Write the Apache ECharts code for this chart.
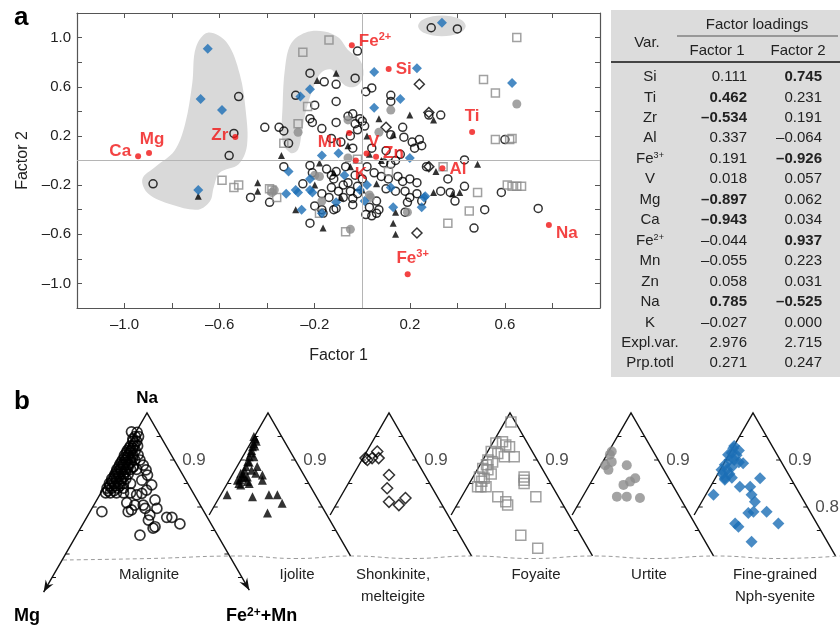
<!DOCTYPE html>
<html>
<head>
<meta charset="utf-8">
<script src="https://cdn.jsdelivr.net/npm/echarts@6/dist/echarts.min.js"></script>
<style>
html, body { margin: 0; padding: 0; background: #fff; }
#main { width: 840px; height: 632px; }
</style>
</head>
<body>
<div id="main"></div>
<script>
var FONT = '"Liberation Sans", Arial, sans-serif';
var RED = '#f01414', BLUE = '#1b6eb5', GRAY = '#8c8c8c';

// ---- factor loadings (table + red points) ----
var loadVars = ['Si', 'Ti', 'Zr', 'Al', 'Fe3+', 'V', 'Mg', 'Ca', 'Fe2+', 'Mn', 'Zn', 'Na', 'K'];
var factor1 = [0.111, 0.462, -0.534, 0.337, 0.191, 0.018, -0.897, -0.943, -0.044, -0.055, 0.058, 0.785, -0.027];
var factor2 = [0.745, 0.231, 0.191, -0.064, -0.926, 0.057, 0.062, 0.034, 0.937, 0.223, 0.031, -0.525, 0.000];
var summaryNames = ['Expl.var.', 'Prp.totl'];
var summary1 = [2.976, 0.271];
var summary2 = [2.715, 0.247];

// ---- panel a: factor scores by rock type [factor1, factor2] ----
var malignite = [
  [-0.52,0.52],[-0.54,0.22],[-0.56,0.04],[-0.88,-0.19],
  [-0.02,0.89],[-0.22,0.71],[-0.16,0.64],[-0.11,0.62],[-0.03,0.67],[-0.28,0.53],[-0.20,0.45],[-0.11,0.48],[0.015,0.56],[0.04,0.59],
  [-0.41,0.27],[-0.35,0.27],[-0.33,0.24],[-0.31,0.14],[-0.22,0.34],[-0.21,0.31],[-0.17,0.26],[-0.11,0.31],
  [-0.06,0.36],[-0.03,0.30],[-0.01,0.34],[-0.04,0.38],[-0.02,0.25],[-0.05,0.20],
  [-0.33,-0.05],[-0.22,-0.04],[-0.21,-0.10],[-0.47,-0.30],[-0.39,-0.34],[-0.04,0.10],
  [0.29,1.08],[0.40,1.07],
  [0.12,0.53],[0.12,0.48],[0.0,0.32],[0.01,0.28],[0.04,0.10],[0.17,0.27],[0.175,0.19],[0.12,0.21],[0.21,0.15],[0.24,0.17],[0.25,0.12],[0.22,0.10],[0.28,0.37],[0.33,0.37],
  [0.09,-0.02],[0.12,-0.03],[0.14,0.0],[0.27,-0.05],
  [0.08,-0.13],[0.11,-0.15],[0.15,-0.13],[0.17,-0.17],[0.20,-0.15],[0.23,-0.18],
  [0.10,-0.23],[0.14,-0.25],[0.18,-0.25],[0.20,-0.30],[0.23,-0.27],[0.25,-0.33],[0.19,-0.34],
  [0.06,-0.33],[0.03,-0.38],[0.07,-0.40],
  [0.36,-0.15],[0.39,-0.33],[0.37,-0.26],[0.33,-0.25],[0.43,0.005],[0.60,0.17],[0.43,-0.21],[0.585,-0.26],[0.515,-0.40],[0.74,-0.39],[0.47,-0.55],[0.18,-0.42],
  [-0.15,-0.07],[-0.13,-0.12],[-0.11,-0.09],[-0.12,-0.15],[-0.25,-0.19],[-0.17,-0.27],[-0.13,-0.22],[-0.14,-0.30],[-0.08,-0.20],[-0.06,-0.18],[-0.05,-0.25],[-0.04,-0.31],[-0.02,-0.27],[-0.02,-0.21],[-0.04,-0.36],[-0.165,-0.43],[-0.12,-0.40],[-0.22,-0.51],
  [-0.20,-0.37],[-0.17,-0.40],[-0.11,-0.39],[0.015,-0.44],[0.04,-0.45],[0.06,-0.43],
  [0.02,-0.05],[0.05,-0.10],[0.0,-0.15],[-0.03,-0.12],[-0.08,-0.30],[-0.10,-0.25],[-0.07,-0.05],[-0.09,0.15],[-0.13,0.18],[0.10,0.08],[0.16,0.05]
];
var ijolite = [
  [-0.11,0.71],[-0.19,0.65],[-0.34,0.04],[-0.69,-0.29],[-0.44,-0.18],[-0.44,-0.25],[0.07,0.34],[0.02,0.20],[0.20,0.37],[0.30,0.33],
  [0.13,0.21],[0.03,0.05],[0.31,-0.09],[0.30,-0.26],[0.41,-0.26],[0.14,-0.42],[0.13,-0.51],[0.14,-0.60],[0.06,-0.19],[0.485,-0.03],
  [-0.18,-0.02],[-0.28,-0.40],[-0.165,-0.55],[-0.09,-0.30],[0.38,-0.27],[-0.05,-0.05],[0.0,-0.24],[-0.12,-0.10],[-0.20,-0.20],[0.08,0.0],[-0.06,0.12]
];
var shonkinite = [[0.24,0.62],[0.10,0.27],[0.28,-0.05],[0.23,-0.59],[0.28,0.39]];
var foyaite = [
  [-0.14,0.98],[-0.25,0.88],[-0.23,0.44],[-0.27,0.30],[-0.33,0.14],[-0.59,-0.16],[-0.54,-0.22],[-0.52,-0.20],[-0.38,-0.24],[-0.36,-0.30],
  [0.65,1.0],[0.51,0.66],[0.56,0.55],[0.56,0.17],[0.62,0.17],[0.63,0.18],[0.34,-0.05],[0.61,-0.20],[0.63,-0.21],[0.65,-0.21],[0.67,-0.21],
  [0.485,-0.26],[0.45,-0.41],[0.36,-0.51],[-0.07,-0.58],[-0.39,-0.23],[-0.18,-0.43],[-0.02,0.01],[0.11,-0.09]
];
var urtite = [
  [-0.27,0.23],[-0.38,-0.26],[-0.20,-0.12],[-0.06,0.02],[0.07,0.23],[0.03,-0.28],[0.12,0.41],[0.65,0.46],[0.19,-0.42],[-0.05,-0.56],
  [-0.37,-0.24],[-0.18,-0.13],[-0.17,-0.33],[-0.06,0.33],[0.035,-0.30]
];
var fineGrained = [
  [-0.65,0.91],[-0.68,0.50],[-0.59,0.41],[-0.69,-0.24],[0.05,0.72],[0.05,0.43],[-0.22,0.58],[-0.26,0.52],[-0.31,-0.09],[-0.32,-0.27],
  [-0.27,-0.26],[-0.22,-0.24],[-0.17,0.04],[-0.11,-0.34],[0.02,-0.20],[0.335,1.12],[0.23,0.75],[0.63,0.63],[0.16,0.50],[-0.10,0.06],
  [-0.28,-0.24],[-0.22,-0.15],[-0.21,-0.26],[-0.255,-0.40],[-0.17,-0.43],[-0.075,-0.12],[-0.01,-0.24],[0.20,0.02],[0.12,-0.22],[0.265,-0.29],
  [0.13,-0.38],[0.01,-0.33],[0.26,-0.30],[0.25,-0.38]
];

// ---- panel b: ternary points [offset from Na apex, Na fraction] ----
var terMalignite = [
  [-0.021,0.959],[-0.033,0.960],[-0.019,0.911],[-0.002,0.879],[0.001,0.868],[0.010,0.847],[-0.011,0.829],[-0.043,0.809],[-0.026,0.804],[-0.004,0.797],
  [0.017,0.815],[0.021,0.797],[0.006,0.783],[0.003,0.772],[0.017,0.758],[0.042,0.778],[0.053,0.778],[0.070,0.764],[-0.015,0.740],[-0.096,0.790],
  [-0.040,0.790],[-0.033,0.794],[0.013,0.755],[-0.008,0.804],[-0.022,0.826],[-0.001,0.836],[-0.011,0.857],[-0.029,0.886],[-0.008,0.889],
  [-0.025,0.950],[-0.018,0.950],[-0.030,0.940],[-0.022,0.940],[-0.035,0.930],[-0.028,0.930],[-0.020,0.930],
  [-0.042,0.920],[-0.034,0.920],[-0.025,0.920],[-0.048,0.910],[-0.040,0.910],[-0.030,0.910],
  [-0.052,0.900],[-0.044,0.900],[-0.035,0.900],[-0.026,0.900],[-0.015,0.900],
  [-0.058,0.890],[-0.050,0.890],[-0.040,0.890],[-0.064,0.880],[-0.055,0.880],[-0.045,0.880],[-0.035,0.880],[-0.022,0.880],
  [-0.068,0.870],[-0.060,0.870],[-0.050,0.870],[-0.040,0.870],[-0.075,0.860],[-0.065,0.860],[-0.055,0.860],[-0.045,0.860],
  [-0.080,0.850],[-0.070,0.850],[-0.060,0.850],[-0.050,0.850],[-0.035,0.850],[-0.085,0.840],[-0.075,0.840],[-0.062,0.840],[-0.050,0.840],
  [-0.088,0.830],[-0.078,0.830],[-0.065,0.830],[-0.050,0.830],[-0.035,0.830],
  [-0.030,0.945],[-0.026,0.935],[-0.038,0.925],[-0.030,0.925],[-0.044,0.915],[-0.035,0.915],[-0.048,0.905],[-0.040,0.905],[-0.030,0.905],
  [-0.055,0.895],[-0.045,0.895],[-0.035,0.895],[-0.060,0.885],[-0.050,0.885],[-0.040,0.885],[-0.030,0.885],[-0.065,0.875],[-0.055,0.875],[-0.045,0.875],
  [-0.070,0.865],[-0.060,0.865],[-0.050,0.865],[-0.075,0.855],[-0.065,0.855],[-0.055,0.855],[-0.080,0.845],[-0.068,0.845],[-0.058,0.845],[-0.083,0.835],[-0.070,0.835]
];
var terIjolite = [
  [-0.030,0.950],[-0.033,0.928],[-0.040,0.907],[-0.047,0.886],[-0.058,0.872],[-0.065,0.857],[-0.044,0.864],[-0.026,0.872],[-0.012,0.868],[-0.012,0.857],
  [-0.023,0.886],[-0.030,0.907],[-0.058,0.847],[-0.087,0.826],[-0.033,0.822],[0.002,0.826],[0.020,0.826],[0.030,0.808],[-0.001,0.787],[-0.044,0.854],
  [-0.051,0.864],[-0.025,0.940],[-0.035,0.920],[-0.028,0.930],[-0.040,0.895],[-0.050,0.878],[-0.035,0.878],[-0.055,0.862],[-0.062,0.850],[-0.040,0.850],
  [-0.027,0.945],[-0.031,0.935],[-0.036,0.915],[-0.043,0.897],[-0.053,0.870],[-0.060,0.858]
];
var terShonkinite = [[-0.046,0.900],[-0.036,0.904],[-0.025,0.918],[-0.022,0.904],[-0.050,0.904],[0.000,0.868],[-0.004,0.840],[0.000,0.811],[0.021,0.804],[0.035,0.819]];
var terFoyaite = [
  [0.002,0.981],[-0.030,0.936],[-0.016,0.939],[-0.009,0.932],[-0.001,0.928],[-0.040,0.918],[-0.026,0.914],[-0.012,0.907],[-0.047,0.900],[-0.037,0.896],
  [0.009,0.907],[-0.058,0.882],[-0.047,0.879],[-0.065,0.864],[-0.055,0.861],[-0.062,0.843],[-0.051,0.843],[-0.069,0.843],[0.030,0.864],[0.030,0.857],
  [0.030,0.850],[0.055,0.822],[-0.026,0.822],[-0.009,0.811],[-0.005,0.804],[0.023,0.740],[0.059,0.712],[-0.050,0.890],[-0.040,0.870],[-0.060,0.855]
];
var terUrtite = [[-0.045,0.911],[-0.041,0.896],[-0.055,0.889],[-0.048,0.879],[-0.009,0.889],[0.009,0.861],[-0.002,0.854],[-0.016,0.847],[-0.030,0.822],[-0.009,0.822],[0.019,0.819],[-0.041,0.918]];
var terFine = [
  [-0.042,0.925],[-0.053,0.911],[-0.021,0.893],[0.015,0.861],[-0.067,0.879],[-0.060,0.861],[-0.084,0.826],[-0.028,0.843],[-0.006,0.843],[-0.003,0.826],
  [0.004,0.811],[-0.010,0.787],[0.001,0.790],[0.029,0.790],[0.054,0.765],[-0.038,0.765],[-0.031,0.758],[-0.003,0.726],
  [-0.045,0.915],[-0.050,0.900],[-0.060,0.890],[-0.040,0.900],[-0.035,0.910],[-0.055,0.880],[-0.045,0.885],[-0.030,0.895],[-0.065,0.870],[-0.050,0.870],[-0.060,0.858],[-0.045,0.862],[-0.040,0.930],[-0.030,0.920]
];
var rockNames = ['Malignite', 'Ijolite', 'Shonkinite,\nmelteigite', 'Foyaite', 'Urtite', 'Fine-grained\nNph-syenite'];

// ---- layout ----
var R3 = Math.sqrt(3);
var S = 470;                                   // px per ternary unit
var apexPx = [147, 268, 389, 510, 631, 753];
var naLeftEnd = [0.619, 0.783, 0.783, 0.783, 0.783, 0.783];
var naRightEnd = [0.623, 0.696, 0.696, 0.696, 0.696, 0.696];
var rockLabelX = [149, 297, 393, 536, 649, 775];
var tickLevels = [0.95, 0.9, 0.85, 0.8, 0.75, 0.7, 0.65];

// shaded groups in panel a (data coordinates)
var ellipse = [];
for (var k = 0; k < 16; k++) {
  var t = k / 16 * Math.PI * 2;
  ellipse.push([0.335 + 0.10 * Math.cos(t), 1.095 + 0.085 * Math.sin(t)]);
}
var regions = [
  [[-0.65,1.04],[-0.57,0.96],[-0.515,0.70],[-0.49,0.40],[-0.485,0.12],[-0.52,-0.03],[-0.60,-0.10],[-0.625,-0.22],[-0.64,-0.33],[-0.69,-0.40],[-0.80,-0.36],[-0.90,-0.27],[-0.925,-0.15],[-0.87,-0.05],[-0.79,0.08],[-0.745,0.30],[-0.715,0.63],[-0.70,0.92]],
  [[-0.30,0.06],[-0.335,0.15],[-0.335,0.45],[-0.325,0.75],[-0.30,0.95],[-0.24,1.04],[-0.16,1.05],[-0.10,1.0],[-0.06,0.90],[-0.01,0.82],[0.005,0.70],[-0.02,0.61],[-0.06,0.60],[-0.10,0.66],[-0.13,0.74],[-0.17,0.72],[-0.20,0.62],[-0.235,0.42],[-0.255,0.22],[-0.27,0.09]],
  ellipse
];

var labelPos = {
  'Si': ['right', [0, 0]], 'Ti': ['top', [0, 0]], 'Zr': ['left', [0, -2]], 'Al': ['right', [0, 1]],
  'Fe3+': ['top', [5, 0]], 'V': ['top', [7, 4]], 'Mg': ['top', [3, 2]], 'Ca': ['left', [0, -5]],
  'Fe2+': ['right', [0, -4]], 'Mn': ['left', [0, 9]], 'Zn': ['right', [0, -3]], 'Na': ['right', [0, 8]], 'K': ['bottom', [5, -2]]
};

function dash(v, d) { return (v < 0 ? '\u2013' : '') + Math.abs(v).toFixed(d); }
function supName(n) { return n.replace(/(\d\+)$/, '{sup|$1}'); }

function ticks(a, b, step) { var r = []; for (var v = a; v <= b + 1e-9; v += step) r.push(+v.toFixed(2)); return r; }

var chart = echarts.init(document.getElementById('main'));

var axisLine = { show: true, onZero: false, lineStyle: { color: '#555', width: 1.2 } };
var tickStyle = { show: true, inside: true, length: 5, lineStyle: { color: '#555' } };
var labStyle = { color: '#222', fontSize: 15, fontFamily: FONT };

var xTicks = ticks(-1.0, 0.8, 0.2), yTicks = ticks(-1.0, 1.0, 0.2);
var xLabs = [-1.0, -0.6, -0.2, 0.2, 0.6], yLabs = [-1.0, -0.6, -0.2, 0.2, 0.6, 1.0];

function scatterA(data, sym, size, style, z) {
  return { type: 'scatter', xAxisIndex: 0, yAxisIndex: 0, data: data, symbol: sym, symbolSize: size, itemStyle: style, z: z || 3, silent: true };
}
function scatterB(data, sym, size, style) {
  var out = [];
  data.forEach(function (grp, i) {
    grp.forEach(function (p) { out.push([apexPx[i] / S + p[0], p[1]]); });
  });
  return { type: 'scatter', xAxisIndex: 2, yAxisIndex: 2, data: out, symbol: sym, symbolSize: size, itemStyle: style, z: 3, silent: true };
}
var open = function (c, w) { return { color: 'rgba(0,0,0,0)', borderColor: c, borderWidth: w || 1.5 }; };

var redData = loadVars.map(function (n, i) {
  var lp = labelPos[n];
  return { name: n, value: [factor1[i], factor2[i]], label: { position: lp[0], offset: lp[1] } };
});

// baseline under the ternary plots
var basePx = [[63,560],[150,558.5],[240,556],[296,558.5],[351,556],[411,558.5],[472,556],[532,558.5],[593,556],[654,558.5],[716,556],[777,558.5],[840,556]];

var series = [
  {
    type: 'custom', xAxisIndex: 0, yAxisIndex: 0, silent: true, z: 1,
    data: regions.map(function (r) { return r[0]; }),
    renderItem: function (params, api) {
      var pts = regions[params.dataIndex].map(function (p) { return api.coord(p); });
      return { type: 'polygon', shape: { points: pts, smooth: 0.35 }, style: { fill: '#d9d9d9', stroke: null } };
    }
  },
  {
    type: 'line', xAxisIndex: 0, yAxisIndex: 0, data: [], silent: true, z: 2,
    markLine: {
      silent: true, symbol: ['none', 'none'], label: { show: false },
      lineStyle: { color: '#b5b5b5', width: 1, type: 'solid' },
      data: [{ xAxis: 0 }, { yAxis: 0 }]
    }
  },
  scatterA(malignite, 'circle', 8, open('#000')),
  scatterA(foyaite, 'rect', 8, open('#8a8a8a')),
  scatterA(shonkinite, 'diamond', 10, open('#000')),
  scatterA(urtite, 'circle', 9, { color: GRAY }),
  scatterA(ijolite, 'triangle', 7, { color: '#000' }),
  scatterA(fineGrained, 'diamond', 10, { color: BLUE }),
  {
    type: 'scatter', xAxisIndex: 0, yAxisIndex: 0, data: redData, symbol: 'circle', symbolSize: 6,
    itemStyle: { color: RED }, z: 6, silent: true,
    label: {
      show: true, distance: 4, color: RED, fontSize: 17, fontFamily: FONT, fontWeight: 'bold',
      formatter: function (p) { return supName(p.name); },
      rich: { sup: { fontSize: 11, color: RED, fontWeight: 'bold', fontFamily: FONT, verticalAlign: 'top', padding: [0, 0, 8, 0] } }
    }
  },
  // ternary frames
  {
    type: 'custom', xAxisIndex: 2, yAxisIndex: 2, silent: true, z: 2,
    data: apexPx.map(function (p) { return [p / S, 1]; }),
    renderItem: function (params, api) {
      var i = params.dataIndex, a = apexPx[i] / S;
      var L = api.coord([a - (1 - naLeftEnd[i]) / R3, naLeftEnd[i]]);
      var T = api.coord([a, 1]);
      var Rr = api.coord([a + (1 - naRightEnd[i]) / R3, naRightEnd[i]]);
      var st = { stroke: '#111', lineWidth: 1.4, fill: null };
      var kids = [{ type: 'polyline', shape: { points: [L, T, Rr] }, style: st }];
      tickLevels.forEach(function (n) {
        if (n > naLeftEnd[i] + 0.01) {
          var p = api.coord([a - (1 - n) / R3, n]);
          kids.push({ type: 'line', shape: { x1: p[0], y1: p[1], x2: p[0] + 4, y2: p[1] }, style: { stroke: '#111', lineWidth: 1 } });
        }
        if (n > naRightEnd[i] + 0.01) {
          var q = api.coord([a + (1 - n) / R3, n]);
          kids.push({ type: 'line', shape: { x1: q[0], y1: q[1], x2: q[0] - 4, y2: q[1] }, style: { stroke: '#111', lineWidth: 1 } });
        }
      });
      if (i === 0) {
        [L, Rr].forEach(function (P) {
          var dx = P[0] - T[0], dy = P[1] - T[1], len = Math.sqrt(dx * dx + dy * dy);
          dx /= len; dy /= len;
          var nx = -dy, ny = dx;
          var bx = P[0] - dx * 12, by = P[1] - dy * 12;
          kids.push({ type: 'polygon', shape: { points: [P, [bx + nx * 4.5, by + ny * 4.5], [P[0] - dx * 8, P[1] - dy * 8], [bx - nx * 4.5, by - ny * 4.5]] }, style: { fill: '#111' } });
        });
      }
      return { type: 'group', children: kids };
    }
  },
  {
    type: 'line', xAxisIndex: 2, yAxisIndex: 2, silent: true, z: 1, symbol: 'none', smooth: 0.5,
    data: basePx.map(function (p) { return [p[0] / S, 1 - (p[1] - 413) / S]; }),
    lineStyle: { color: '#9a9a9a', width: 1, type: [4, 3] }
  },
  {
    type: 'scatter', xAxisIndex: 2, yAxisIndex: 2, silent: true, symbolSize: 0, z: 4,
    data: apexPx.map(function (p) { return { name: '0.9', value: [p / S + 0.1 / R3, 0.9] }; })
      .concat([{ name: '0.8', value: [apexPx[5] / S + 0.2 / R3, 0.8] }]),
    label: { show: true, position: 'right', distance: 8, formatter: '{b}', color: '#222', fontSize: 17, fontFamily: FONT }
  },
  scatterB([terMalignite], 'circle', 10, open('#000', 1.7)),
  scatterB([[], terIjolite], 'triangle', 9, { color: '#000' }),
  scatterB([[], [], terShonkinite], 'diamond', 11, open('#000')),
  scatterB([[], [], [], terFoyaite], 'rect', 10, open('#8a8a8a')),
  scatterB([[], [], [], [], terUrtite], 'circle', 10, { color: GRAY }),
  scatterB([[], [], [], [], [], terFine], 'diamond', 12, { color: BLUE })
];

// ---- table graphics ----
var graphic = [];
function txt(x, y, text, opt) {
  opt = opt || {};
  graphic.push({
    type: 'text', x: x, y: y, silent: true, z: 10,
    style: {
      text: text, fill: opt.color || '#222',
      font: (opt.bold ? 'bold ' : '') + (opt.size || 15) + 'px ' + FONT,
      textAlign: opt.align || 'center', align: opt.align || 'center',
      textVerticalAlign: 'middle', verticalAlign: 'middle',
      rich: { sup: { fontSize: opt.supSize || 9, fontWeight: opt.bold ? 'bold' : 'normal', fontFamily: FONT, fill: opt.color || '#222', verticalAlign: 'top', padding: [0, 0, 7, 0] } }
    }
  });
}
graphic.push({ type: 'rect', silent: true, z: 0, shape: { x: 611, y: 10, width: 229, height: 367 }, style: { fill: '#dcdcdc' } });
graphic.push({ type: 'line', silent: true, z: 1, shape: { x1: 677, y1: 36, x2: 838, y2: 36 }, style: { stroke: '#555', lineWidth: 1 } });
graphic.push({ type: 'line', silent: true, z: 1, shape: { x1: 611, y1: 62, x2: 840, y2: 62 }, style: { stroke: '#444', lineWidth: 2 } });
txt(757, 25, 'Factor loadings');
txt(647, 43, 'Var.');
txt(717, 51, 'Factor 1');
txt(798, 51, 'Factor 2');
var rowY0 = 77, rowH = 20.45;
loadVars.forEach(function (n, i) {
  var y = rowY0 + i * rowH;
  txt(650, y, supName(n));
  txt(747, y, dash(factor1[i], 3), { align: 'right', bold: Math.abs(factor1[i]) > 0.4 });
  txt(822, y, dash(factor2[i], 3), { align: 'right', bold: Math.abs(factor2[i]) > 0.4 });
});
summaryNames.forEach(function (n, j) {
  var y = rowY0 + (loadVars.length + j) * rowH;
  txt(650, y, n);
  txt(747, y, dash(summary1[j], 3), { align: 'right' });
  txt(822, y, dash(summary2[j], 3), { align: 'right' });
});

// panel letters and ternary labels
txt(14, 18, 'a', { align: 'left', bold: true, size: 26, color: '#000' });
txt(14, 402, 'b', { align: 'left', bold: true, size: 26, color: '#000' });
txt(147, 398, 'Na', { bold: true, size: 17, color: '#000' });
txt(14, 616, 'Mg', { align: 'left', bold: true, size: 18, color: '#000' });
txt(226, 616, 'Fe{sup|2+}+Mn', { align: 'left', bold: true, size: 18, supSize: 12, color: '#000' });
rockNames.forEach(function (n, i) {
  n.split('\n').forEach(function (line, j) {
    txt(rockLabelX[i], 575 + j * 22, line, { size: 15 });
  });
});

var option = {
  animation: false,
  backgroundColor: '#fff',
  grid: [
    { left: 77, top: 13, width: 523, height: 295 },
    { left: 0, top: 380, width: 840, height: 252 }
  ],
  xAxis: [
    {
      gridIndex: 0, type: 'value', min: -1.2, max: 1.0, position: 'bottom',
      axisLine: axisLine, splitLine: { show: false },
      axisTick: Object.assign({ customValues: xTicks }, tickStyle),
      axisLabel: Object.assign({ customValues: xLabs, margin: 9, formatter: function (v) { return dash(v, 1); } }, labStyle),
      name: 'Factor 1', nameLocation: 'middle', nameGap: 40,
      nameTextStyle: { fontSize: 16, color: '#222', fontFamily: FONT }
    },
    {
      gridIndex: 0, type: 'value', min: -1.2, max: 1.0, position: 'top',
      axisLine: axisLine, splitLine: { show: false },
      axisTick: Object.assign({ customValues: xTicks }, tickStyle),
      axisLabel: { show: false }
    },
    { gridIndex: 1, type: 'value', min: 0, max: 840 / S, show: false }
  ],
  yAxis: [
    {
      gridIndex: 0, type: 'value', min: -1.2, max: 1.2, position: 'left',
      axisLine: axisLine, splitLine: { show: false },
      axisTick: Object.assign({ customValues: yTicks }, tickStyle),
      axisLabel: Object.assign({ customValues: yLabs, margin: 6, formatter: function (v) { return dash(v, 1); } }, labStyle),
      name: 'Factor 2', nameLocation: 'middle', nameGap: 46, nameRotate: 90,
      nameTextStyle: { fontSize: 16, color: '#222', fontFamily: FONT }
    },
    {
      gridIndex: 0, type: 'value', min: -1.2, max: 1.2, position: 'right',
      axisLine: axisLine, splitLine: { show: false },
      axisTick: Object.assign({ customValues: yTicks }, tickStyle),
      axisLabel: { show: false }
    },
    { gridIndex: 1, type: 'value', min: 1 - (632 - 413) / S, max: 1 + (413 - 380) / S, show: false }
  ],
  series: series,
  graphic: graphic
};
chart.setOption(option);
</script>
</body>
</html>
